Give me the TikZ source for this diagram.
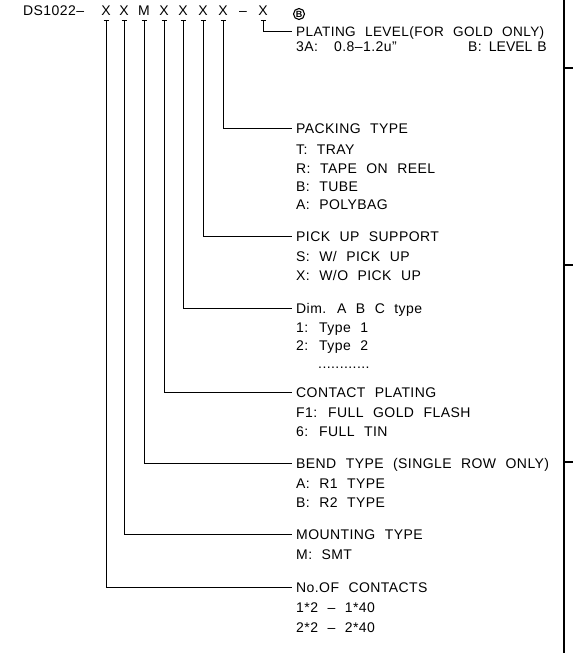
\documentclass[tikz,border=0pt]{standalone}
\usepackage{fontspec}
\setmainfont{Liberation Sans}[WordSpace=2.2,LetterSpace=3]
\newfontfamily\plainfont{Liberation Sans}
\begin{document}
\begin{tikzpicture}[x=1pt,y=-1pt,
  txt/.style={anchor=west, inner sep=0pt, text height=10pt, text depth=0pt, font=\fontsize{14}{14}\selectfont},
  code/.style={anchor=base, inner sep=0pt, font=\fontsize{14}{14}\selectfont},
  conn/.style={line width=0.9pt},
  frame/.style={line width=2pt}]
\useasboundingbox[fill=white] (0,0) rectangle (573,653);
% code row
\node[code, anchor=base west] (ds) at (23,16) {DS1022--};
\node[code] (x1) at (106,16) {X};
\node[code] (x2) at (124,16) {X};
\node[code] (x3) at (144,16) {M};
\node[code] (x4) at (164,16) {X};
\node[code] (x5) at (183,16) {X};
\node[code] (x6) at (203,16) {X};
\node[code] (x7) at (223,16) {X};
\node[code] (dd) at (243,16) {--};
\node[code] (x8) at (263,16) {X};
% headings
\node[txt, font=\fontsize{13.6}{14}\selectfont] (h8) at (296,31) {PLATING LEVEL(FOR GOLD ONLY)};
\node[txt] (s8a) at (296,46) {3A:};
\node[txt] (s8b) at (334,46) {0.8--1.2u"};
\node[txt] (s8c) at (468,46) {B:};
\node[txt, anchor=east, font=\plainfont\fontsize{14}{14}\selectfont] (s8d) at (547,46) {LEVEL\hspace{5pt}B};
\node[circle, draw, line width=1.1pt, inner sep=0pt, minimum size=11pt, font=\plainfont\bfseries\fontsize{9}{9}\selectfont] (cb) at (299,14) {B};

\node[txt] (h7) at (296,128) {PACKING TYPE};
\node[txt] at (296,149) {T: TRAY};
\node[txt] at (296,168) {R: TAPE ON REEL};
\node[txt] at (296,186) {B: TUBE};
\node[txt] at (296,204) {A: POLYBAG};

\node[txt] (h6) at (296,236) {PICK UP SUPPORT};
\node[txt] at (296,256) {S: W/ PICK UP};
\node[txt] at (296,275) {X: W/O PICK UP};

\node[txt] (h5) at (296,308) {Dim. A B C type};
\node[txt] at (296,327) {1: Type 1};
\node[txt] at (296,345) {2: Type 2};
\node[txt] at (318,363) {............};

\node[txt] (h4) at (296,392) {CONTACT PLATING};
\node[txt] at (296,412) {F1: FULL GOLD FLASH};
\node[txt] at (296,431) {6: FULL TIN};

\node[txt] (h3) at (296,463) {BEND TYPE (SINGLE ROW ONLY)};
\node[txt] at (296,483) {A: R1 TYPE};
\node[txt] at (296,502) {B: R2 TYPE};

\node[txt] (h2) at (296,534) {MOUNTING TYPE};
\node[txt] at (296,554) {M: SMT};

\node[txt] (h1) at (296,587) {No.OF CONTACTS};
\node[txt] at (296,607) {1*2 -- 1*40};
\node[txt] at (296,627) {2*2 -- 2*40};
% connectors
\foreach \n/\h in {x1/h1,x2/h2,x3/h3,x4/h4,x5/h5,x6/h6,x7/h7,x8/h8}{
  \draw[conn] ([xshift=-2.5pt,yshift=-4pt]\n.south) -- ++(5,0);
  \draw[conn] ([yshift=-4pt]\n.south) |- ([xshift=-4pt]\h.west);
}
% right frame
\draw[frame] (564,0) -- (564,653);
\draw[frame] (564,68) -- (573,68);
\draw[frame] (564,265) -- (573,265);
\draw[frame] (564,462) -- (573,462);
\end{tikzpicture}
\end{document}
